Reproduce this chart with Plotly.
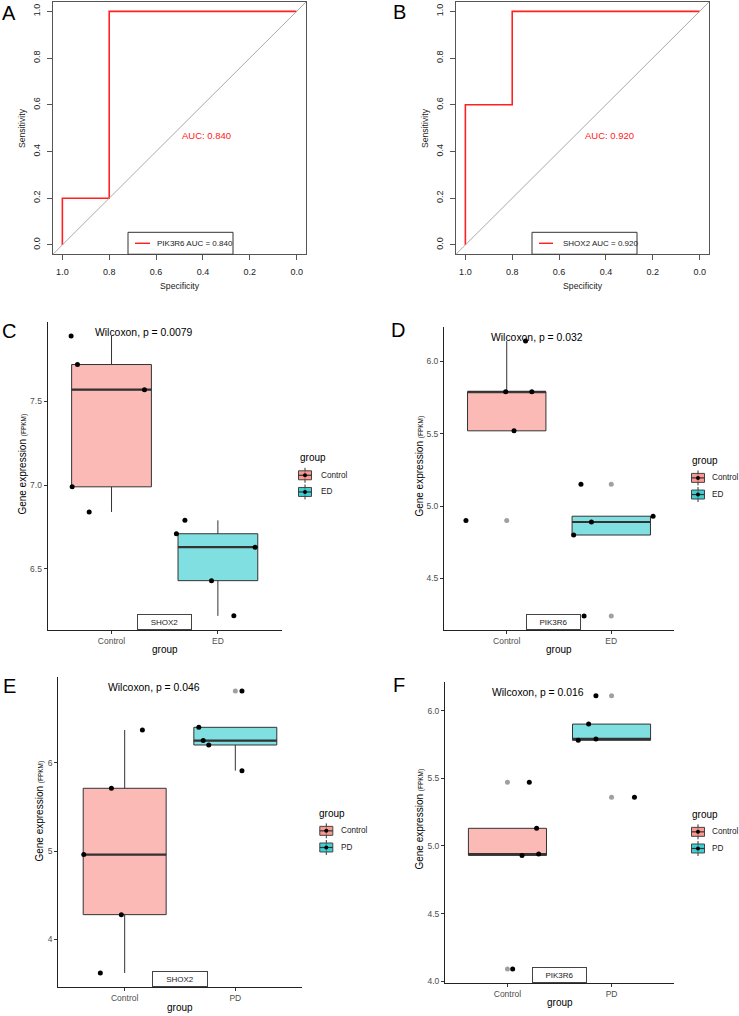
import numpy as np
import plotly.graph_objects as go

W, H = 739, 1016
FONT = "Arial, Liberation Sans, sans-serif"

# ---------------- data ----------------
# ROC curves (specificity, sensitivity)
roc_spec_A = [1.0, 1.0, 0.8, 0.8, 0.0]
roc_sens_A = [0.0, 0.2, 0.2, 1.0, 1.0]
roc_spec_B = [1.0, 1.0, 0.8, 0.8, 0.0]
roc_sens_B = [0.0, 0.6, 0.6, 1.0, 1.0]
roc_auc = [0.840, 0.920]
roc_genes = ["PIK3R6", "SHOX2"]
roc_ticks = [0.0, 0.2, 0.4, 0.6, 0.8, 1.0]

# Expression boxplots
groups_CD = ["Control", "ED"]
groups_EF = ["Control", "PD"]

C_control = [7.89, 7.72, 7.57, 6.99, 6.84]
C_ed = [6.79, 6.71, 6.63, 6.43, 6.22]
C_control_jit = [-0.38, -0.32, 0.31, -0.37, -0.21]
C_ed_jit = [-0.31, -0.39, 0.35, -0.06, 0.15]

D_control = [6.14, 5.79, 5.79, 5.52, 4.90]
D_ed = [5.15, 4.89, 4.93, 4.80, 4.24]
D_control_jit = [0.18, -0.01, 0.24, 0.07, -0.39]
D_ed_jit = [-0.29, -0.19, 0.40, -0.36, -0.26]

E_control = [6.37, 5.71, 4.96, 4.28, 3.62]
E_pd = [6.81, 6.40, 6.25, 6.20, 5.91]
E_control_jit = [0.16, -0.12, -0.37, -0.03, -0.22]
E_pd_jit = [0.06, -0.33, -0.29, -0.24, 0.06]

F_control = [5.47, 5.13, 4.94, 4.93, 4.09]
F_pd = [6.11, 5.90, 5.79, 5.78, 5.36]
F_control_jit = [0.21, 0.28, 0.30, 0.14, 0.05]
F_pd_jit = [-0.15, -0.22, -0.15, -0.32, 0.22]

genes_box = ["SHOX2", "PIK3R6", "SHOX2", "PIK3R6"]
p_values = ["0.0079", "0.032", "0.046", "0.016"]

FILL = ["rgba(248,118,109,0.5)", "rgba(0,191,196,0.5)"]

# ---------------- helpers ----------------
def px(x):
    return x / W


def py(y):
    return 1 - y / H


fig = go.Figure()
annotations = []
shapes = []


def text(xp, yp, s, size, color="#000000", xanchor="center", yanchor="middle", angle=0):
    annotations.append(dict(x=px(xp), y=py(yp), xref="paper", yref="paper", text=s,
                            showarrow=False, xanchor=xanchor, yanchor=yanchor,
                            textangle=angle, font=dict(family=FONT, size=size, color=color)))


layout = dict(width=W, height=H, margin=dict(l=0, r=0, t=0, b=0),
              paper_bgcolor="white", plot_bgcolor="white", showlegend=False,
              font=dict(family=FONT))

# ---------------- ROC panels ----------------
roc_boxes = [(53, 306, 2, 255), (456, 709, 2, 255)]
roc_legend = [(128, 233, 135, 150, 155), (532, 637, 539, 553, 560.5)]
roc_letters = [("A", 9, 13), ("B", 399, 12)]
roc_data = [(roc_spec_A, roc_sens_A), (roc_spec_B, roc_sens_B)]

for i in range(2):
    ax = "" if i == 0 else str(i + 1)
    l, r, t, b = roc_boxes[i]
    spec, sens = roc_data[i]
    shapes.append(dict(type="line", xref=f"x{ax} domain", yref=f"y{ax} domain",
                       x0=0, y0=0, x1=1, y1=1, line=dict(color="#AAAAAA", width=1)))
    fig.add_trace(go.Scatter(x=spec, y=sens, mode="lines",
                             line=dict(color="#FF2020", width=1.6),
                             xaxis="x" + ax, yaxis="y" + ax, hoverinfo="skip"))
    common = dict(showgrid=False, zeroline=False, showline=True, mirror=True,
                  linecolor="#555555", linewidth=1, ticks="outside", ticklen=5,
                  tickcolor="#555555", tickvals=roc_ticks, tickformat=".1f",
                  tickfont=dict(family=FONT, size=9, color="#222222"))
    layout["xaxis" + ax] = dict(common, domain=[px(l), px(r)], range=[1.04, -0.04],
                                anchor="y" + ax, ticklabelstandoff=4)
    layout["yaxis" + ax] = dict(common, domain=[py(b), py(t)], range=[-0.04, 1.04],
                                anchor="x" + ax, tickangle=-90, ticklabelstandoff=3)
    # AUC text
    annotations.append(dict(x=0.5, y=0.5, xref="x" + ax, yref="y" + ax,
                            text=f"AUC: {roc_auc[i]:.3f}", showarrow=False,
                            xanchor="left", yanchor="top",
                            font=dict(family=FONT, size=9.5, color="#FF2020")))
    # axis titles
    text((l + r) / 2, 287, "Specificity", 8.7, "#222222")
    text(l - 31, (t + b) / 2, "Sensitivity", 8.7, "#222222", angle=-90)
    # legend box
    bl, br, ll0, ll1, tx = roc_legend[i]
    shapes.append(dict(type="rect", xref="paper", yref="paper",
                       x0=px(bl), x1=px(br), y0=py(b), y1=py(233),
                       line=dict(color="#333333", width=1), fillcolor="white"))
    shapes.append(dict(type="line", xref="paper", yref="paper",
                       x0=px(ll0), x1=px(ll1), y0=py(244), y1=py(244),
                       line=dict(color="#FF2020", width=1.4)))
    text(tx, 244, f"{roc_genes[i]} AUC = {roc_auc[i]:.3f}", 8, "#222222", xanchor="left")
    lt, lx, ly = roc_letters[i]
    text(lx, ly, lt, 20)

# ---------------- boxplot panels ----------------
panels = [
    dict(groups=groups_CD, vals=[C_control, C_ed], jit=[C_control_jit, C_ed_jit],
         box=(47.7, 281.7, 323, 631.7), dtick=0.5, fmt=".1f", label_x=1.5,
         ytitle=(23, 466), xtitle_y=651, leg=(297.7, 459.3, 298, 476.7, 319),
         letter=("C", 9, 332), lab_w=51),
    dict(groups=groups_CD, vals=[D_control, D_ed], jit=[D_control_jit, D_ed_jit],
         box=(444, 674, 328.3, 631.7), dtick=0.5, fmt=".1f", label_x=1.45,
         ytitle=(420, 468), xtitle_y=651, leg=(690, 462.3, 691, 479.3, 709.5),
         letter=("D", 398, 330.5), lab_w=51),
    dict(groups=groups_EF, vals=[E_control, E_pd], jit=[E_control_jit, E_pd_jit],
         box=(58.3, 301.7, 679, 990), dtick=1, fmt="d", label_x=1.5,
         ytitle=(40, 814), xtitle_y=1010, leg=(317.3, 815.7, 319.3, 833.3, 339.3),
         letter=("E", 9, 688), lab_w=52),
    dict(groups=groups_EF, vals=[F_control, F_pd], jit=[F_control_jit, F_pd_jit],
         box=(445, 674, 684, 985.7), dtick=0.5, fmt=".1f", label_x=1.5,
         ytitle=(420, 822), xtitle_y=1005.7, leg=(690, 816.7, 691, 834.3, 709.5),
         letter=("F", 398.5, 687.5), lab_w=51),
]

for n, pnl in enumerate(panels):
    ax = str(n + 3)
    xa, ya = "x" + ax, "y" + ax
    l, r, t, b = pnl["box"]
    allv = np.concatenate([np.array(v) for v in pnl["vals"]])
    span = allv.max() - allv.min()
    yr = [allv.min() - 0.05 * span, allv.max() + 0.05 * span]

    for k, (vals, jit) in enumerate(zip(pnl["vals"], pnl["jit"])):
        v = np.array(vals)
        c = k + 1
        q1, med, q3 = np.percentile(v, [25, 50, 75])
        iqr = q3 - q1
        lo_f, hi_f = q1 - 1.5 * iqr - 1e-9, q3 + 1.5 * iqr + 1e-9
        inside = v[(v >= lo_f) & (v <= hi_f)]
        outl = v[(v < lo_f) | (v > hi_f)]
        fig.add_trace(go.Box(x=[c], q1=[q1], median=[med], q3=[q3],
                             lowerfence=[inside.min()], upperfence=[inside.max()],
                             width=0.75, whiskerwidth=0, fillcolor=FILL[k],
                             line=dict(color="#333333", width=1), boxpoints=False,
                             xaxis=xa, yaxis=ya, hoverinfo="skip"))
        fig.add_trace(go.Scatter(x=[c - 0.375, c + 0.375], y=[med, med], mode="lines",
                                 line=dict(color="#333333", width=2.2),
                                 xaxis=xa, yaxis=ya, hoverinfo="skip"))
        if len(outl):
            fig.add_trace(go.Scatter(x=[c] * len(outl), y=outl, mode="markers",
                                     marker=dict(color="#A0A0A0", size=5),
                                     xaxis=xa, yaxis=ya, hoverinfo="skip"))
        fig.add_trace(go.Scatter(x=c + np.array(jit), y=v, mode="markers",
                                 marker=dict(color="#000000", size=5),
                                 xaxis=xa, yaxis=ya, hoverinfo="skip"))

    layout["xaxis" + ax] = dict(domain=[px(l), px(r)], range=[0.4, 2.6], anchor=ya,
                                tickvals=[1, 2], ticktext=pnl["groups"],
                                showgrid=False, zeroline=False, showline=True,
                                linecolor="#222222", linewidth=1.1, ticks="outside",
                                ticklen=3, tickcolor="#333333",
                                tickfont=dict(family=FONT, size=8.5, color="#4D4D4D"))
    layout["yaxis" + ax] = dict(domain=[py(b), py(t)], range=yr, anchor=xa,
                                dtick=pnl["dtick"], tick0=0, tickformat=pnl["fmt"],
                                showgrid=False, zeroline=False, showline=True,
                                linecolor="#222222", linewidth=1.1, ticks="outside",
                                ticklen=3, tickcolor="#333333",
                                tickfont=dict(family=FONT, size=8.5, color="#4D4D4D"))

    # Wilcoxon label
    annotations.append(dict(x=0.83, y=allv.max(), xref=xa, yref=ya, yshift=3.5,
                            text=f"Wilcoxon, p = {p_values[n]}", showarrow=False,
                            xanchor="left", yanchor="middle",
                            font=dict(family=FONT, size=10.4, color="#000000")))
    # gene label box at bottom
    annotations.append(dict(x=pnl["label_x"], y=0, xref=xa, yref=ya + " domain",
                            text=genes_box[n], showarrow=False, xanchor="center",
                            yanchor="bottom", width=pnl["lab_w"], height=12,
                            bordercolor="#444444", borderwidth=1, borderpad=1,
                            bgcolor="white",
                            font=dict(family=FONT, size=8, color="#222222")))
    # axis titles
    text((l + r) / 2, pnl["xtitle_y"], "group", 10, "#000000")
    tx, ty = pnl["ytitle"]
    text(tx, ty, "Gene expression <span style='font-size:6.5px'>(FPKM)</span>", 10,
         "#000000", angle=-90)
    # letter
    lt, lx, ly = pnl["letter"]
    text(lx, ly, lt, 20)

    # legend
    gx, gy, kx, ky, lx2 = pnl["leg"]
    text(gx, gy, "group", 10, "#000000", xanchor="left")
    for k, name in enumerate(pnl["groups"]):
        yy = ky + k * 16.7
        shapes.append(dict(type="line", xref="paper", yref="paper",
                           x0=px(kx + 7), x1=px(kx + 7), y0=py(yy - 7.5), y1=py(yy + 7.5),
                           line=dict(color="#333333", width=1)))
        shapes.append(dict(type="rect", xref="paper", yref="paper",
                           x0=px(kx + 0.5), x1=px(kx + 13.5), y0=py(yy + 4.5), y1=py(yy - 4.5),
                           fillcolor=FILL[k].replace("0.5)", "0.75)"),
                           line=dict(color="#444444", width=1)))
        shapes.append(dict(type="line", xref="paper", yref="paper",
                           x0=px(kx + 0.5), x1=px(kx + 13.5), y0=py(yy), y1=py(yy),
                           line=dict(color="#333333", width=1.2)))
        shapes.append(dict(type="circle", xref="paper", yref="paper",
                           x0=px(kx + 5), x1=px(kx + 9), y0=py(yy + 2), y1=py(yy - 2),
                           fillcolor="#000000", line=dict(color="#000000", width=0)))
        text(lx2, yy, name, 8.2, "#222222", xanchor="left")

layout["annotations"] = annotations
layout["shapes"] = shapes
fig.update_layout(**layout)
fig.write_html("out.html")
